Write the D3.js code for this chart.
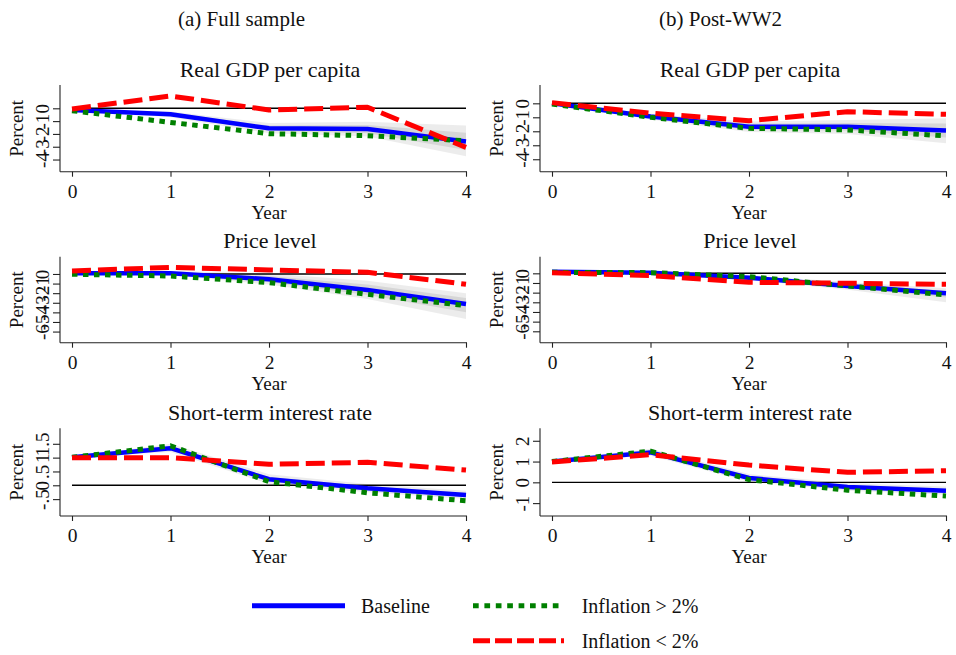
<!DOCTYPE html>
<html><head><meta charset="utf-8">
<script src="https://cdn.jsdelivr.net/npm/d3@7"></script>
<style>
html,body{margin:0;padding:0;background:#fff;}
svg text{font-family:"Liberation Serif","Times New Roman",serif;fill:#111;}
</style></head>
<body><svg id="chart" width="956" height="655"></svg>
<script>
// ---------- DATA ----------
const years = [0, 1, 2, 3, 4];
const sampleTitles = ["(a) Full sample", "(b) Post-WW2"];
const variableTitles = ["Real GDP per capita", "Price level", "Short-term interest rate"];
const seriesNames = ["Baseline", "Inflation > 2%", "Inflation < 2%"];

// Full sample
const fullGdpBaseline = [-0.13, -0.47, -1.56, -1.62, -2.60];
const fullGdpHigh     = [-0.19, -1.10, -1.98, -2.14, -2.53];
const fullGdpLow      = [-0.05,  0.96, -0.13,  0.08, -3.05];
const fullGdpHi90 = [-0.13, -0.25, -1.15, -1.05, -1.35];
const fullGdpLo90 = [-0.13, -0.70, -1.95, -2.20, -3.75];
const fullGdpHi68 = [-0.13, -0.35, -1.35, -1.30, -1.90];
const fullGdpLo68 = [-0.13, -0.60, -1.75, -1.95, -3.25];

const fullPriceBaseline = [0.07, 0.07, -0.55, -1.67, -3.12];
const fullPriceHigh     = [-0.03, -0.21, -0.90, -2.12, -3.30];
const fullPriceLow      = [0.31, 0.69, 0.42, 0.17, -1.07];
const fullPriceHi90 = [0.07, 0.30, 0.05, -0.70, -2.00];
const fullPriceLo90 = [0.07, -0.15, -1.10, -2.60, -4.70];
const fullPriceHi68 = [0.07, 0.20, -0.20, -1.10, -2.50];
const fullPriceLo68 = [0.07, -0.05, -0.85, -2.20, -4.00];

const fullRateBaseline = [1.01, 1.34, 0.22, -0.11, -0.35];
const fullRateHigh     = [1.01, 1.43, 0.13, -0.27, -0.56];
const fullRateLow      = [1.00, 1.00, 0.76, 0.83, 0.55];
const fullRateHi90 = [1.01, 1.50, 0.40, 0.05, -0.20];
const fullRateLo90 = [1.01, 1.20, 0.05, -0.25, -0.50];
const fullRateHi68 = [1.01, 1.42, 0.30, -0.03, -0.28];
const fullRateLo68 = [1.01, 1.27, 0.14, -0.18, -0.43];

// Post-WW2
const postGdpBaseline = [0.00, -0.95, -1.67, -1.67, -1.95];
const postGdpHigh     = [-0.05, -1.00, -1.79, -1.90, -2.33];
const postGdpLow      = [0.05, -0.71, -1.24, -0.60, -0.79];
const postGdpHi90 = [0.00, -0.75, -1.30, -1.20, -1.07];
const postGdpLo90 = [0.00, -1.15, -2.05, -2.20, -2.86];
const postGdpHi68 = [0.00, -0.85, -1.45, -1.40, -1.45];
const postGdpLo68 = [0.00, -1.05, -1.90, -1.95, -2.45];

const postPriceBaseline = [0.17, 0.07, -0.45, -1.31, -2.07];
const postPriceHigh     = [0.10, 0.07, -0.34, -1.31, -2.24];
const postPriceLow      = [0.07, -0.24, -0.93, -1.03, -1.14];
const postPriceHi90 = [0.17, 0.20, -0.20, -0.90, -1.55];
const postPriceLo90 = [0.17, -0.05, -0.70, -1.70, -3.00];
const postPriceHi68 = [0.17, 0.15, -0.30, -1.10, -1.80];
const postPriceLo68 = [0.17, 0.00, -0.60, -1.50, -2.50];

const postRateBaseline = [1.00, 1.44, 0.21, -0.22, -0.40];
const postRateHigh     = [1.00, 1.50, 0.13, -0.38, -0.66];
const postRateLow      = [0.98, 1.33, 0.83, 0.48, 0.56];
const postRateHi90 = [1.00, 1.62, 0.40, -0.05, -0.20];
const postRateLo90 = [1.00, 1.28, 0.03, -0.40, -0.60];
const postRateHi68 = [1.00, 1.53, 0.30, -0.13, -0.30];
const postRateLo68 = [1.00, 1.36, 0.12, -0.30, -0.50];

// y-axis ticks and tick labels
const fullTicks = [[-4, -3, -2, -1, 0], [-6, -5, -4, -3, -2, -1, 0], [-0.5, 0, 0.5, 1, 1.5]];
const fullTickLabels = [["-4", "-3", "-2", "-1", "0"], ["-6", "-5", "-4", "-3", "-2", "-1", "0"], ["-.5", "0", ".5", "1", "1.5"]];
const postTicks = [[-4, -3, -2, -1, 0], [-6, -5, -4, -3, -2, -1, 0], [-1, 0, 1, 2]];
const postTickLabels = [["-4", "-3", "-2", "-1", "0"], ["-6", "-5", "-4", "-3", "-2", "-1", "0"], ["-1", "0", "1", "2"]];
const fullDomains = [[-4.95, 1.82], [-7.16, 1.80], [-1.11, 2.06]];
const postDomains = [[-4.89, 1.31], [-7.18, 1.72], [-1.62, 2.60]];

// ---------- LAYOUT ----------
const svg = d3.select("#chart");
const colX = [{axis: 60, r0: 72, r1: 466, right: 467}, {axis: 540, r0: 552, r1: 946, right: 947}];
const rowY = [{top: 85, bottom: 171.7, title: 77}, {top: 256.7, bottom: 342.7, title: 247.5}, {top: 428.3, bottom: 516, title: 420}];
const colors = ["#0000ff", "#008000", "#ff0000"];
const dashes = [null, "5.5,5.5", "19,7"];
const widths = [4.5, 5, 5];

const panels = [
  [ {base: fullGdpBaseline, high: fullGdpHigh, low: fullGdpLow, hi90: fullGdpHi90, lo90: fullGdpLo90, hi68: fullGdpHi68, lo68: fullGdpLo68},
    {base: fullPriceBaseline, high: fullPriceHigh, low: fullPriceLow, hi90: fullPriceHi90, lo90: fullPriceLo90, hi68: fullPriceHi68, lo68: fullPriceLo68},
    {base: fullRateBaseline, high: fullRateHigh, low: fullRateLow, hi90: fullRateHi90, lo90: fullRateLo90, hi68: fullRateHi68, lo68: fullRateLo68} ],
  [ {base: postGdpBaseline, high: postGdpHigh, low: postGdpLow, hi90: postGdpHi90, lo90: postGdpLo90, hi68: postGdpHi68, lo68: postGdpLo68},
    {base: postPriceBaseline, high: postPriceHigh, low: postPriceLow, hi90: postPriceHi90, lo90: postPriceLo90, hi68: postPriceHi68, lo68: postPriceLo68},
    {base: postRateBaseline, high: postRateHigh, low: postRateLow, hi90: postRateHi90, lo90: postRateLo90, hi68: postRateHi68, lo68: postRateLo68} ]
];
const ticksAll = [fullTicks, postTicks];
const labelsAll = [fullTickLabels, postTickLabels];
const domainsAll = [fullDomains, postDomains];

// Sample headers
sampleTitles.forEach((t, c) => {
  svg.append("text").attr("x", c === 0 ? 241.5 : 720.5).attr("y", 26)
    .attr("text-anchor", "middle").style("font-size", "21px").text(t);
});

for (let c = 0; c < 2; c++) {
  for (let r = 0; r < 3; r++) {
    const P = panels[c][r];
    const cx = colX[c], ry = rowY[r];
    const x = d3.scaleLinear().domain([0, 4]).range([cx.r0, cx.r1]);
    const y = d3.scaleLinear().domain(domainsAll[c][r]).range([ry.bottom, ry.top]);
    const g = svg.append("g");

    // title
    g.append("text").attr("x", (cx.r0 + cx.r1) / 2 + 1).attr("y", ry.title)
      .attr("text-anchor", "middle").style("font-size", "22px").text(variableTitles[r]);

    // confidence bands
    const area = (lo, hi) => d3.area().x((d, i) => x(years[i])).y0((d, i) => y(lo[i])).y1((d, i) => y(hi[i]));
    g.append("path").attr("d", area(P.lo90, P.hi90)(years)).attr("fill", "#000").attr("fill-opacity", 0.075);
    g.append("path").attr("d", area(P.lo68, P.hi68)(years)).attr("fill", "#000").attr("fill-opacity", 0.09);

    // zero line
    g.append("line").attr("x1", x(0)).attr("x2", x(4)).attr("y1", y(0)).attr("y2", y(0))
      .attr("stroke", "#000").attr("stroke-width", 1.4);

    // axes
    const yAxis = d3.axisLeft(y).tickValues(ticksAll[c][r]).tickSize(7).tickSizeOuter(0)
      .tickFormat((d, i) => labelsAll[c][r][i]);
    const ya = g.append("g").attr("transform", `translate(${cx.axis},0)`).call(yAxis);
    ya.select(".domain").attr("d", `M0,${ry.top}V${ry.bottom}`).attr("stroke", "#222").attr("stroke-width", 1.1);
    ya.selectAll(".tick line").attr("stroke", "#222").attr("stroke-width", 1.1);
    ya.selectAll(".tick text").attr("x", null).attr("dy", null)
      .attr("transform", "translate(-11,0) rotate(-90)")
      .attr("text-anchor", "middle").attr("y", 0)
      .style("font-size", "19px").style("font-family", "Liberation Serif, serif").attr("fill", "#111");

    const xAxis = d3.axisBottom(x).tickValues(years).tickSize(5).tickSizeOuter(0).tickFormat(d3.format("d"));
    const xa = g.append("g").attr("transform", `translate(0,${ry.bottom})`).call(xAxis);
    xa.select(".domain").attr("d", `M${cx.axis},0H${cx.right}`).attr("stroke", "#222").attr("stroke-width", 1.1);
    xa.selectAll(".tick line").attr("stroke", "#222").attr("stroke-width", 1.1);
    xa.selectAll(".tick text").attr("y", 26).attr("dy", null)
      .style("font-size", "19.5px").style("font-family", "Liberation Serif, serif").attr("fill", "#111");

    // axis titles
    g.append("text").attr("x", 0).attr("y", 0).attr("text-anchor", "middle").style("font-size", "19px")
      .attr("transform", `translate(${cx.axis - 37},${(ry.top + ry.bottom) / 2}) rotate(-90)`).text("Percent");
    g.append("text").attr("x", (cx.r0 + cx.r1) / 2).attr("y", ry.bottom + 47)
      .attr("text-anchor", "middle").style("font-size", "19px").text("Year");

    // series
    const line = d3.line().x((d, i) => x(years[i])).y(d => y(d));
    [P.base, P.high, P.low].forEach((s, k) => {
      g.append("path").datum(s).attr("d", line).attr("fill", "none")
        .attr("stroke", colors[k]).attr("stroke-width", widths[k])
        .attr("stroke-dasharray", dashes[k]).attr("stroke-linejoin", "round")
        .attr("stroke-linecap", "butt");
    });
  }
}

// legend
const legendItems = [
  {x1: 252, x2: 345, y: 605.7, tx: 361, k: 0},
  {x1: 473, x2: 564, y: 605.7, tx: 581.7, k: 1},
  {x1: 473, x2: 564, y: 640.7, tx: 581.7, k: 2}
];
legendItems.forEach(L => {
  svg.append("line").attr("x1", L.x1).attr("x2", L.x2).attr("y1", L.y).attr("y2", L.y)
    .attr("stroke", colors[L.k]).attr("stroke-width", 5)
    .attr("stroke-dasharray", L.k === 1 ? "5.7,5.7" : (L.k === 2 ? "17,5" : null));
  svg.append("text").attr("x", L.tx).attr("y", L.y + 7).style("font-size", "20px").text(seriesNames[L.k]);
});
</script></body></html>
